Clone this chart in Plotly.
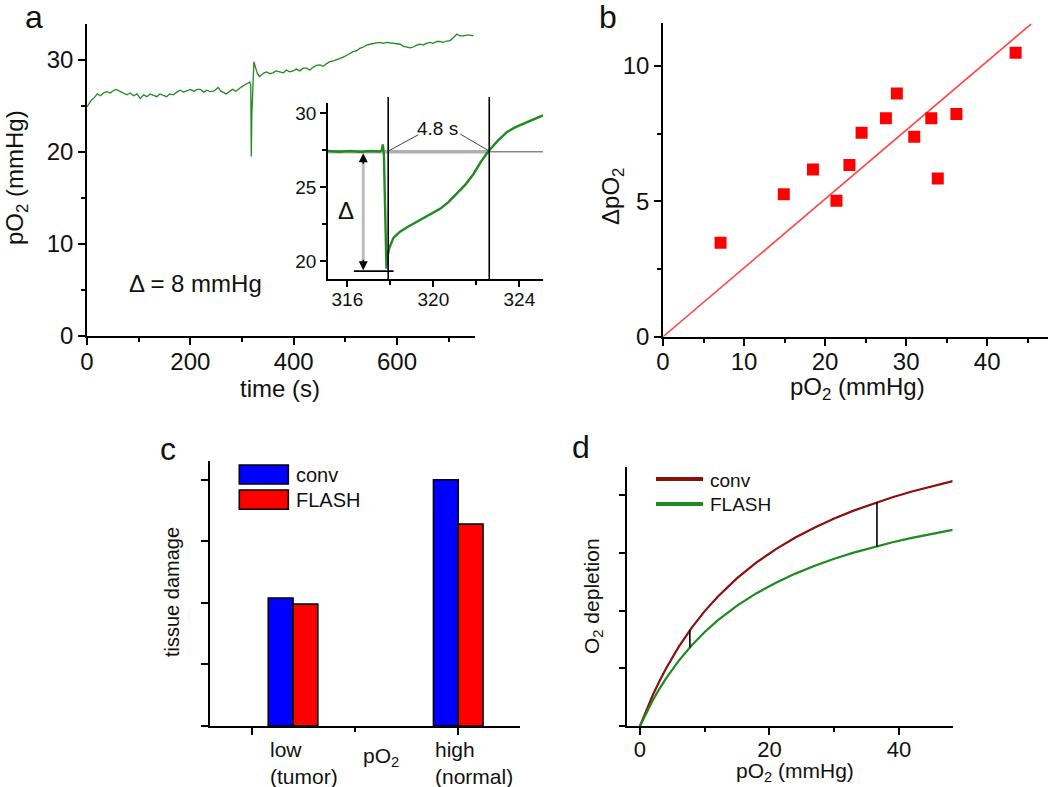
import plotly.graph_objects as go

# ---------------- data ----------------
# panel a: pO2 trace over time
a_time = [0, 8, 14, 20, 26, 32, 38, 45, 52, 57, 63, 70, 77, 84, 90, 97, 103, 110, 116, 122,
          128, 135, 141, 148, 154, 160, 167, 174, 180, 187, 193, 200, 207, 213, 219, 226, 232,
          238, 245, 250, 254, 259, 264, 270, 276, 282, 288, 294, 300, 306, 311, 315, 317, 318,
          319, 321, 323, 326, 330, 334, 338, 343, 348, 354, 360, 366, 373, 380, 386, 392, 399,
          405, 412, 418, 425, 431, 438, 444, 451, 457, 464, 470, 477, 483, 490, 496, 503, 509,
          515, 522, 528, 535, 541, 548, 554, 560, 567, 573, 580, 586, 593, 599, 606, 612, 619,
          625, 632, 638, 645, 651, 657, 664, 670, 677, 683, 690, 696, 703, 709, 716, 722, 728,
          735, 741, 748]
a_po2 = [24.9, 25.6, 25.9, 26.3, 26.1, 26.4, 26.55, 26.4, 26.7, 26.8, 26.6, 26.4, 26.2, 26.4,
         26.1, 26.3, 25.8, 26.2, 26.0, 26.3, 26.2, 26.0, 26.3, 26.1, 26.0, 26.3, 26.2, 26.5,
         26.7, 26.5, 26.6, 26.8, 26.6, 26.8, 26.8, 26.5, 26.7, 26.55, 26.6, 26.8, 27.0, 26.6,
         26.5, 26.3, 26.6, 26.8, 26.6, 26.9, 27.1, 27.3, 27.5, 27.6, 27.2, 19.5, 24.0, 27.5,
         29.8, 29.2, 28.5, 28.2, 28.4, 28.6, 28.7, 28.5, 28.6, 28.8, 28.7, 28.6, 28.9, 28.7,
         28.8, 29.0, 28.8, 29.1, 29.1, 28.9, 29.2, 29.4, 29.45, 29.3, 29.6, 29.8, 29.9, 30.0,
         30.2, 30.3, 30.5, 30.7, 30.9, 31.0, 31.25, 31.4, 31.6, 31.7, 31.8, 31.85, 31.9, 31.8,
         31.9, 31.85, 31.8, 31.7, 31.7, 31.5, 31.4, 31.3, 31.4, 31.6, 31.7, 31.6, 31.8, 31.9,
         31.8, 32.0, 32.0, 31.9, 32.05, 32.1, 32.4, 32.8, 32.6, 32.6, 32.7, 32.7, 32.6]

# panel a inset: zoom around the pulse
inset_time = [315.1, 315.6, 316.1, 316.6, 317.1, 317.5, 317.6, 317.65, 317.7, 317.77, 317.82,
              317.85, 317.95, 318.15, 318.45, 318.78, 319.15, 319.55, 319.95, 320.33, 320.7,
              321.1, 321.5, 321.87, 322.2, 322.57, 323.0, 323.43, 323.8, 324.2, 324.65, 325.1]
inset_po2 = [27.45, 27.4, 27.45, 27.4, 27.45, 27.42, 27.5, 27.9, 27.2, 22.5, 19.5, 20.2, 20.9,
             21.6, 22.0, 22.3, 22.6, 22.9, 23.2, 23.56, 24.0, 24.57, 25.2, 25.9, 26.7, 27.45,
             28.15, 28.74, 29.05, 29.3, 29.6, 29.86]
inset_baseline = 27.4
inset_t_start, inset_t_end = 317.9, 322.6
inset_delta_top, inset_delta_bottom = 27.3, 19.4

# panel b: depletion vs pO2
b_po2 = [7.1, 14.9, 18.5, 21.4, 23.0, 24.5, 27.5, 28.85, 31.0, 33.1, 33.9, 36.2, 43.5]
b_dpo2 = [3.47, 5.26, 6.18, 5.02, 6.34, 7.54, 8.07, 8.99, 7.39, 8.07, 5.85, 8.23, 10.49]
b_fit_x = [0, 45.4]
b_fit_y = [0, 11.55]

# panel c: tissue damage bars
c_categories = ["low<br>(tumor)", "high<br>(normal)"]
c_series = ["conv", "FLASH"]
c_conv = [2.08, 4.0]
c_flash = [1.98, 3.28]

# panel d: O2 depletion curves
d_po2 = [0, 1, 2, 3, 4, 6, 8, 10, 12, 15, 18, 21, 24, 27, 30, 33, 36, 39, 42, 45, 48.3]
d_conv = [0, 0.283, 0.541, 0.776, 0.993, 1.375, 1.704, 1.989, 2.239, 2.561, 2.832, 3.064,
          3.264, 3.439, 3.593, 3.730, 3.852, 3.962, 4.061, 4.151, 4.241]
d_flash = [0, 0.236, 0.449, 0.643, 0.821, 1.133, 1.399, 1.629, 1.829, 2.085, 2.300, 2.482,
           2.639, 2.776, 2.896, 3.002, 3.097, 3.182, 3.258, 3.328, 3.397]
d_gap_x = [7.7, 36.6]
d_gap_conv = [1.66, 3.88]
d_gap_flash = [1.36, 3.11]

# ---------------- style ----------------
W, H = 1050, 787
FONT = "Liberation Sans, Arial, sans-serif"
INK = "#111111"
GREEN = "#1f8a1f"
DARKRED = "#8b1010"
def px(v): return v / W
def py(v): return 1 - v / H

def ax_style(size, **kw):
    d = dict(showline=True, linecolor="black", linewidth=1.6, ticks="outside", ticklen=7,
             tickwidth=1.5, tickcolor="black", showgrid=False, zeroline=False,
             tickfont=dict(family=FONT, size=size, color=INK), fixedrange=True)
    d.update(kw)
    return d

def minor(dt, t0=0):
    return dict(ticks="outside", ticklen=4, tickwidth=1.5, tickcolor="black", dtick=dt,
                tick0=t0, showgrid=False)

fig = go.Figure()

# panel a
fig.add_trace(go.Scatter(x=a_time, y=a_po2, mode="lines", line=dict(color=GREEN, width=1.3),
                         xaxis="x", yaxis="y", hoverinfo="skip"))
# inset
fig.add_trace(go.Scatter(x=[inset_time[0], inset_t_end], y=[inset_baseline, inset_baseline],
                         mode="lines", line=dict(color="#b0b0b0", width=3.5),
                         xaxis="x2", yaxis="y2", hoverinfo="skip"))
fig.add_trace(go.Scatter(x=[inset_t_end, inset_time[-1]], y=[inset_baseline, inset_baseline],
                         mode="lines", line=dict(color="#888888", width=1.6),
                         xaxis="x2", yaxis="y2", hoverinfo="skip"))
fig.add_trace(go.Scatter(x=inset_time, y=inset_po2, mode="lines",
                         line=dict(color=GREEN, width=2.4), xaxis="x2", yaxis="y2",
                         hoverinfo="skip"))
# panel b
fig.add_trace(go.Scatter(x=b_fit_x, y=b_fit_y, mode="lines",
                         line=dict(color="#ff4a4a", width=1.6), xaxis="x3", yaxis="y3"))
fig.add_trace(go.Scatter(x=b_po2, y=b_dpo2, mode="markers",
                         marker=dict(symbol="square", size=12, color="#ff0000"),
                         xaxis="x3", yaxis="y3"))
# panel c
cat_pos = [1.2, 2.0]
bar_w = 0.12
fig.add_trace(go.Bar(x=cat_pos, y=c_conv, width=bar_w, offset=-bar_w, name=c_series[0],
                     marker=dict(color="#0000ff", line=dict(color="black", width=1.6)),
                     xaxis="x4", yaxis="y4"))
fig.add_trace(go.Bar(x=cat_pos, y=c_flash, width=bar_w, offset=0, name=c_series[1],
                     marker=dict(color="#ff0000", line=dict(color="black", width=1.6)),
                     xaxis="x4", yaxis="y4"))
# panel d
fig.add_trace(go.Scatter(x=d_po2, y=d_conv, mode="lines", line=dict(color=DARKRED, width=2.2),
                         xaxis="x5", yaxis="y5"))
fig.add_trace(go.Scatter(x=d_po2, y=d_flash, mode="lines", line=dict(color=GREEN, width=2.2),
                         xaxis="x5", yaxis="y5"))
for gx, gc, gf in zip(d_gap_x, d_gap_conv, d_gap_flash):
    fig.add_trace(go.Scatter(x=[gx, gx], y=[gf, gc], mode="lines",
                             line=dict(color="black", width=1.6), xaxis="x5", yaxis="y5"))

# ---------------- layout ----------------
layout = dict(
    width=W, height=H, margin=dict(l=0, r=0, t=0, b=0, autoexpand=False),
    paper_bgcolor="white", plot_bgcolor="rgba(0,0,0,0)", showlegend=False,
    barmode="overlay",
    xaxis=ax_style(24, domain=[px(87), px(475)], range=[0, 751], anchor="y",
                   tickmode="array", tickvals=[0, 200, 400, 600], minor=minor(100),
                   ticklabelstandoff=-4),
    yaxis=ax_style(24, domain=[py(336), py(24)], range=[0, 33.9], anchor="x",
                   tickmode="array", tickvals=[0, 10, 20, 30], minor=minor(5)),
    xaxis2=ax_style(19, domain=[px(328), px(543)], range=[315.1, 325.1], anchor="y2",
                    tickmode="linear", tick0=316, dtick=4, ticklen=6, minor=minor(2, 316),
                    ticklabelstandoff=-4),
    yaxis2=ax_style(19, domain=[py(279), py(103)], range=[18.8, 30.7], anchor="x2",
                    tickmode="linear", tick0=20, dtick=5, ticklen=6, minor=minor(2.5, 20)),
    xaxis3=ax_style(24, domain=[px(663), px(1048)], range=[0, 47.5], anchor="y3",
                    tickmode="linear", tick0=0, dtick=10, minor=minor(5),
                    ticklabelstandoff=-4),
    yaxis3=ax_style(24, domain=[py(336.7), py(23.3)], range=[0, 11.58], anchor="x3",
                    tickmode="linear", tick0=0, dtick=5, minor=minor(2.5)),
    xaxis4=ax_style(20, domain=[px(210), px(520)], range=[0.798, 2.299], anchor="y4",
                    tickmode="array", tickvals=[1, 2], showticklabels=False,
                    minor=dict(ticks="outside", ticklen=4, tickwidth=1.5, tickcolor="black",
                               tickvals=[1.5], showgrid=False)),
    yaxis4=ax_style(20, domain=[py(726), py(460.7)], range=[0, 4.31], anchor="x4",
                    tickmode="array", tickvals=[0, 1, 2, 3, 4], showticklabels=False),
    xaxis5=ax_style(22, domain=[px(627.3), px(952.7)], range=[-1.96, 48.3], anchor="y5",
                    tickmode="array", tickvals=[0, 20, 40], minor=minor(10),
                    ticklabelstandoff=-4),
    yaxis5=ax_style(22, domain=[py(726), py(467.3)], range=[0, 4.48], anchor="x5",
                    tickmode="array", tickvals=[0, 1, 2, 3, 4], showticklabels=False),
)
fig.update_layout(**layout)

shapes = []
# inset vertical markers
for tx in (inset_t_start, inset_t_end):
    shapes.append(dict(type="line", xref="x2", yref="paper", x0=tx, x1=tx,
                       y0=py(279), y1=py(97), line=dict(color="black", width=1.6)))
# leader lines to the "4.8 s" label
shapes.append(dict(type="line", xref="x2", yref="y2", x0=inset_t_start, y0=inset_baseline + 0.05,
                   x1=319.3, y1=28.55, line=dict(color="#444", width=1)))
shapes.append(dict(type="line", xref="x2", yref="y2", x0=321.25, y0=28.6,
                   x1=inset_t_end, y1=inset_baseline + 0.05, line=dict(color="#444", width=1)))
# delta shaft and bottom bar
shapes.append(dict(type="line", xref="x2", yref="y2", x0=316.74, x1=316.74,
                   y0=inset_delta_bottom + 0.4, y1=inset_delta_top - 0.4,
                   line=dict(color="#bdbdbd", width=3)))
shapes.append(dict(type="line", xref="x2", yref="y2", x0=316.3, x1=318.15,
                   y0=19.33, y1=19.33, line=dict(color="black", width=1.6)))
# legend swatches panel c
shapes.append(dict(type="rect", xref="paper", yref="paper", x0=px(239.3), x1=px(288.3),
                   y0=py(484), y1=py(465), fillcolor="#0000ff", line=dict(color="black", width=1.6)))
shapes.append(dict(type="rect", xref="paper", yref="paper", x0=px(239.3), x1=px(288.3),
                   y0=py(509.3), y1=py(490), fillcolor="#ff0000", line=dict(color="black", width=1.6)))
# legend lines panel d
shapes.append(dict(type="line", xref="paper", yref="paper", x0=px(656), x1=px(703),
                   y0=py(479), y1=py(479), line=dict(color=DARKRED, width=4)))
shapes.append(dict(type="line", xref="paper", yref="paper", x0=px(656), x1=px(703),
                   y0=py(504), y1=py(504), line=dict(color=GREEN, width=4)))
fig.update_layout(shapes=shapes)

def txt(x, y, s, size, xanchor="center", yanchor="middle", angle=0, align="center"):
    return dict(x=px(x), y=py(y), xref="paper", yref="paper", text=s, showarrow=False,
                xanchor=xanchor, yanchor=yanchor, textangle=angle, align=align,
                font=dict(family=FONT, size=size, color=INK))

ann = [
    txt(34, 17, "a", 32), txt(608, 17, "b", 32), txt(168, 449, "c", 32), txt(581, 447, "d", 32),
    txt(195, 283, "Δ = 8 mmHg", 24),
    txt(280, 389, "time (s)", 24),
    txt(16, 178, "pO<sub>2</sub> (mmHg)", 24, angle=-90),
    txt(857, 389, "pO<sub>2</sub> (mmHg)", 24),
    txt(612, 197, "ΔpO<sub>2</sub>", 24, angle=-90),
    txt(437, 128, "4.8 s", 19),
    txt(346, 210, "Δ", 24),
    txt(172, 592, "tissue damage", 20, angle=-90),
    txt(381, 757, "pO<sub>2</sub>", 21),
    txt(294, 475, c_series[0], 20, xanchor="left"),
    txt(294, 500, c_series[1], 20, xanchor="left"),
    txt(593, 596, "O<sub>2</sub> depletion", 21, angle=-90),
    txt(795, 772, "pO<sub>2</sub> (mmHg)", 21),
    txt(708, 480, "conv", 19, xanchor="left"),
    txt(708, 504, "FLASH", 19, xanchor="left"),
]
# category labels under the bars (left aligned to conv bar edge)
for pos, lab in zip(cat_pos, c_categories):
    ann.append(dict(x=pos - bar_w, y=py(736), xref="x4", yref="paper", text=lab,
                    showarrow=False, xanchor="left", yanchor="top", align="left",
                    font=dict(family=FONT, size=21, color=INK)))
# delta arrow heads
ann.append(dict(x=316.74, y=inset_delta_top, xref="x2", yref="y2", ax=0, ay=12, text="",
                showarrow=True, arrowhead=2, arrowsize=1.2, arrowwidth=1.5, arrowcolor="black"))
ann.append(dict(x=316.74, y=inset_delta_bottom, xref="x2", yref="y2", ax=0, ay=-12, text="",
                showarrow=True, arrowhead=2, arrowsize=1.2, arrowwidth=1.5, arrowcolor="black"))
fig.update_layout(annotations=ann)

fig.write_html("out.html", config={"displayModeBar": False},
               post_script="document.body.style.margin='0px';")
